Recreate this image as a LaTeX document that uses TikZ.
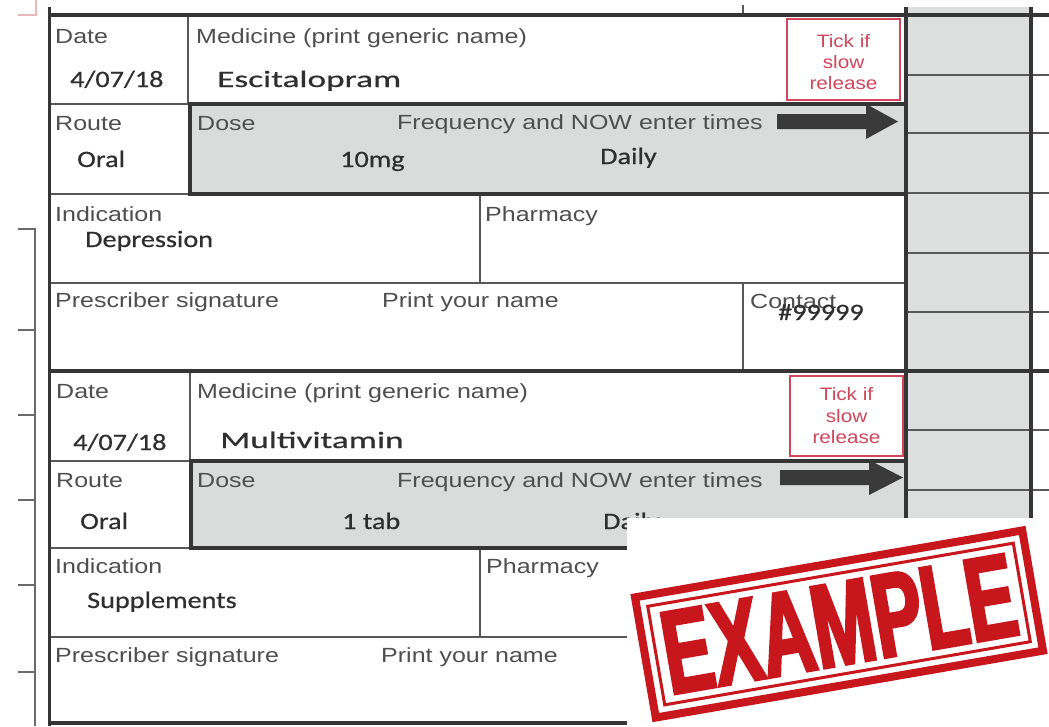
\documentclass[tikz,border=0pt]{standalone}
\usepackage{fontspec}
\newfontfamily\labfam[FakeStretch=1.22]{Liberation Sans}
\newfontfamily\tickfam[FakeStretch=1.15]{Liberation Sans}
\newfontfamily\hwfam[FakeStretch=1.2,FakeBold=0.6]{Carlito}
\newfontfamily\hwwfam[FakeStretch=1.5,FakeBold=0.6]{Carlito}
\newfontfamily\stampfam[FakeStretch=0.62,FakeBold=2.5]{Liberation Sans}
\definecolor{lnd}{HTML}{353535}
\definecolor{lnt}{HTML}{585858}
\definecolor{labc}{HTML}{4F4F4F}
\definecolor{hwc}{HTML}{2F2F2F}
\definecolor{tickred}{HTML}{D2465A}
\definecolor{graycol}{HTML}{DCDFDE}
\definecolor{dosefill}{HTML}{DADCDB}
\definecolor{stampred}{HTML}{C8161D}
\definecolor{arrowc}{HTML}{3A3A3A}
\definecolor{pinkln}{HTML}{EAB8B8}
\definecolor{leftln}{HTML}{6A6A6A}
\tikzset{
  lab/.style={font=\labfam\fontsize{20.5}{24}\selectfont, text=labc, anchor=base west, inner sep=0pt},
  hw/.style={font=\hwfam\fontsize{23.5}{28}\selectfont, text=hwc, anchor=base west, inner sep=0pt},
  hww/.style={font=\hwwfam\fontsize{23.5}{28}\selectfont, text=hwc, anchor=base west, inner sep=0pt},
  ticktxt/.style={font=\tickfam\fontsize{18}{21}\selectfont, text=tickred, anchor=base, inner sep=0pt},
  thk/.style={line width=4.5pt, draw=lnd},
  thn/.style={line width=1.8pt, draw=lnt},
  leftl/.style={line width=1.5pt, draw=leftln},
  tickbox/.style={line width=2.5pt, draw=tickred, fill=white},
  blockarrow/.style={fill=arrowc},
  stamptxt/.style={font=\stampfam\bfseries\fontsize{119}{119}\selectfont, text=stampred, inner sep=0pt, transform shape}
}
\begin{document}
\begin{tikzpicture}[x=1pt,y=-1pt]
\useasboundingbox (0,0) rectangle (1049,726);
\fill[white] (0,0) rectangle (1049,726);
% fills
\fill[graycol] (906,7) rectangle (1031,726);
\fill[dosefill] (190,104) rectangle (906,194);
\fill[dosefill] (191,461) rectangle (906,548);
% marks on the left
\draw[pinkln, line width=2pt] (18,15) -- (36,15) -- (36,0);
\draw[leftl] (18,229) -- (35,229) -- (35,726);
\foreach \yy in {330,415,500,585,672} \draw[leftl] (18,\yy) -- (35,\yy);
% gray column rows
\foreach \yy in {75,133,193,253,312,430,490,550,610,670} \draw[thn] (906,\yy) -- (1049,\yy);
% block 1 thin lines
\draw[thn] (743,5) -- (743,15);
\draw[thn] (188,15) -- (188,104);
\draw[thn] (49,104) -- (190,104);
\draw[thn] (49,194) -- (190,194);
\draw[thn] (480,194) -- (480,283);
\draw[thn] (49,283) -- (906,283);
\draw[thn] (743,283) -- (743,371);
% block 2 thin lines
\draw[thn] (190,371) -- (190,461);
\draw[thn] (49,461) -- (191,461);
\draw[thn] (49,548) -- (191,548);
\draw[thn] (480,548) -- (480,637);
\draw[thn] (49,637) -- (906,637);
\draw[thn] (743,637) -- (743,723);
% thick lines
\draw[thk] (49,15) -- (1049,15);
\draw[thk] (49,371) -- (1049,371);
\draw[thk] (49,723) -- (1049,723);
\draw[thk] (190,104) rectangle (906,194);
\draw[thk] (191,461) rectangle (906,548);
\draw[thk] (906,7) -- (906,726);
\draw[thk] (1031,7) -- (1031,726);
\draw[line width=3pt, draw=lnd] (49,7) -- (49,726);
% tick boxes
\draw[tickbox] (787,19) rectangle (900,100);
\draw[tickbox] (790,376) rectangle (903,456);
% arrows
\fill[blockarrow] (777,114) -- (866,114) -- (866,104) -- (898,121.5) -- (866,139) -- (866,129) -- (777,129) -- cycle;
\fill[blockarrow] (780,470) -- (869,470) -- (869,460) -- (903,477.5) -- (869,495) -- (869,485) -- (780,485) -- cycle;
% block 1 text
\node[lab] (date1) at (55,43) {Date};
\node[lab] (med1) at (196,43) {Medicine (print generic name)};
\node[hw] (dateval1) at (70,87) {4/07/18};
\node[hww] (medval1) at (217,87) {Escitalopram};
\node[ticktxt] (tick1a) at (843.5,47) {Tick if};
\node[ticktxt] (tick1b) at (843.5,68) {slow};
\node[ticktxt] (tick1c) at (843.5,89) {release};
\node[lab] (route1) at (55,130) {Route};
\node[hw] (routeval1) at (77,167) {Oral};
\node[lab] (dose1) at (197,130) {Dose};
\node[lab] (freq1) at (397,129) {Frequency and NOW enter times};
\node[hw] (doseval1) at (340,167) {10mg};
\node[hw] (freqval1) at (600,164) {Daily};
\node[lab] (ind1) at (55,221) {Indication};
\node[hw] (indval1) at (85,247) {Depression};
\node[lab] (pharm1) at (485,221) {Pharmacy};
\node[lab] (presc1) at (55,307) {Prescriber signature};
\node[lab] (print1) at (382,307) {Print your name};
\node[lab] (contact1) at (750,308) {Contact};
\node[hw] (contactval1) at (778,320) {\#99999};
% block 2 text
\node[lab] (date2) at (56,398) {Date};
\node[lab] (med2) at (197,398) {Medicine (print generic name)};
\node[hw] (dateval2) at (73,450) {4/07/18};
\node[hww] (medval2) at (220,448) {Multivitamin};
\node[ticktxt] (tick2a) at (846.5,400) {Tick if};
\node[ticktxt] (tick2b) at (846.5,422) {slow};
\node[ticktxt] (tick2c) at (846.5,443) {release};
\node[lab] (route2) at (56,487) {Route};
\node[hw] (routeval2) at (80,529) {Oral};
\node[lab] (dose2) at (197,487) {Dose};
\node[lab] (freq2) at (397,487) {Frequency and NOW enter times};
\node[hw] (doseval2) at (342,529) {1 tab};
\node[hw] (freqval2) at (603,529) {Daily};
\node[lab] (ind2) at (55,573) {Indication};
\node[hw] (indval2) at (87,608) {Supplements};
\node[lab] (pharm2) at (486,573) {Pharmacy};
\node[lab] (presc2) at (55,662) {Prescriber signature};
\node[lab] (print2) at (381,662) {Print your name};
% stamp
\fill[white] (627,518) rectangle (1049,726);
\begin{scope}[shift={(839,624)}, rotate=9.8]
\draw[stampred, line width=8pt] (-196.5,-61) rectangle (196.5,61);
\draw[stampred, line width=3pt] (-185.5,-50) rectangle (185.5,50);
\node[stamptxt] (stamp) at (0,0) {EXAMPLE};
\end{scope}
\end{tikzpicture}
\end{document}
